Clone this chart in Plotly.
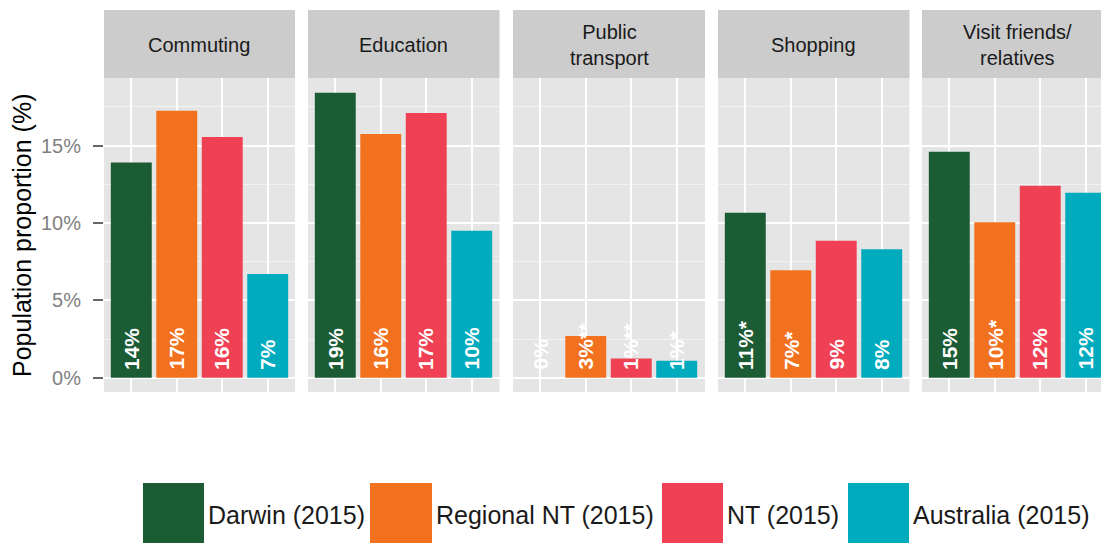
import plotly.graph_objects as go

# ---- data ----
activities = ["Commuting", "Education", "Public<br>transport", "Shopping", "Visit friends/<br>relatives"]
series = ["Darwin (2015)", "Regional NT (2015)", "NT (2015)", "Australia (2015)"]
darwin = [13.9, 18.4, 0.0, 10.65, 14.6]
regional_nt = [17.25, 15.75, 2.7, 6.95, 10.05]
nt = [15.55, 17.1, 1.25, 8.85, 12.4]
australia = [6.7, 9.5, 1.1, 8.3, 11.95]
labels_darwin = ["14%", "19%", "0%", "11%*", "15%"]
labels_regional = ["17%", "16%", "3%**", "7%*", "10%*"]
labels_nt = ["16%", "17%", "1%**", "9%", "12%"]
labels_australia = ["7%", "10%", "1%*", "8%", "12%"]
y_ticks = [0, 5, 10, 15]
y_tick_text = ["0%", "5%", "10%", "15%"]

colors = ["#1B5C35", "#F2711F", "#EF4153", "#00ABBD"]
values = [darwin, regional_nt, nt, australia]
labels = [labels_darwin, labels_regional, labels_nt, labels_australia]

OFF = 8  # page body margin compensation
W, H = 1109 - OFF, 543 - OFF
FONT = "Liberation Sans, Arial, sans-serif"

def px_x(p):
    return (p - OFF) / W

def px_y(p):
    return (H - (p - OFF)) / H

panels = [(104, 295), (308, 499.5), (513, 705), (718, 909.5), (922, 1109)]
unit = (295 - 104) / 4.2
ydom = [px_y(392), px_y(78)]
yrange = [-0.92, 19.36]

fig = go.Figure()
layout = dict(
    width=W, height=H,
    margin=dict(l=0, r=0, t=0, b=0),
    paper_bgcolor="white",
    plot_bgcolor="#E5E5E5",
    showlegend=False,
    barmode="group",
    bargap=0.1,
    font=dict(family=FONT),
)
shapes = []
annotations = []

for i, act in enumerate(activities):
    k = "" if i == 0 else str(i + 1)
    x0p, x1p = panels[i]
    ys = [values[j][i] for j in range(4)]
    fig.add_trace(go.Bar(
        x=series, y=ys, marker=dict(color=colors, line=dict(width=0)),
        width=0.9, xaxis="x" + k, yaxis="y" + k, hoverinfo="skip",
    ))
    xmax = -0.6 + (x1p - x0p) / unit
    layout["xaxis" + k] = dict(
        domain=[px_x(x0p), min(1.0, px_x(x1p))], anchor="y" + k,
        type="category", categoryorder="array", categoryarray=series,
        range=[-0.6, xmax], showticklabels=False, ticks="",
        showgrid=True, gridcolor="white", gridwidth=2, zeroline=False,
        showline=False, fixedrange=True,
    )
    yax = dict(
        domain=ydom, anchor="x" + k, range=yrange,
        tickvals=y_ticks, ticktext=y_tick_text,
        showgrid=True, gridcolor="white", gridwidth=2, zeroline=False,
        minor=dict(tickvals=[2.5, 7.5, 12.5, 17.5], showgrid=True,
                   gridcolor="#F2F2F2", gridwidth=1, ticks=""),
        showline=False, fixedrange=True,
    )
    if i == 0:
        yax.update(ticks="outside", ticklen=10, tickwidth=2, tickcolor="#666666",
                   tickfont=dict(size=20, color="#7F7F7F", family=FONT),
                   ticklabelstandoff=8)
    else:
        yax.update(showticklabels=False, ticks="", matches="y")
    layout["yaxis" + k] = yax

    # strip
    shapes.append(dict(type="rect", xref="paper", yref="paper",
                       x0=px_x(x0p), x1=min(1.0, px_x(x1p)), y0=px_y(78), y1=px_y(10),
                       fillcolor="#CCCCCC", line=dict(width=0), layer="below"))
    cx = (x0p + x1p) / 2 if i < 4 else (922 + 1113) / 2
    annotations.append(dict(xref="paper", yref="paper",
                            x=px_x(cx), y=px_y(45), text=act, showarrow=False,
                            xanchor="center", yanchor="middle",
                            font=dict(size=20, color="#1A1A1A", family=FONT)))
    # bar labels
    for j in range(4):
        annotations.append(dict(xref="x" + k, yref="y" + k, x=series[j], y=0,
                                text=labels[j][i], showarrow=False, textangle=-90,
                                xanchor="center", yanchor="bottom", yshift=6,
                                font=dict(size=21, color="white", family=FONT,
                                          weight="bold")))

# y-axis title
annotations.append(dict(xref="paper", yref="paper", x=px_x(22), y=px_y(235),
                        text="Population proportion (%)", showarrow=False,
                        textangle=-90, xanchor="center", yanchor="middle",
                        font=dict(size=25, color="#000000", family=FONT)))

# legend (manual)
legend_keys = [(143, 204), (370, 432), (662, 723), (848, 909)]
for j, (a, b) in enumerate(legend_keys):
    shapes.append(dict(type="rect", xref="paper", yref="paper",
                       x0=px_x(a), x1=px_x(b), y0=px_y(548), y1=px_y(483),
                       fillcolor=colors[j], line=dict(width=0)))
    annotations.append(dict(xref="paper", yref="paper", x=px_x(b + 2), y=px_y(515),
                            text=series[j], showarrow=False,
                            xanchor="left", yanchor="middle",
                            font=dict(size=25, color="#1A1A1A", family=FONT)))

layout["shapes"] = shapes
layout["annotations"] = annotations
fig.update_layout(**layout)
fig.write_html("out.html")
